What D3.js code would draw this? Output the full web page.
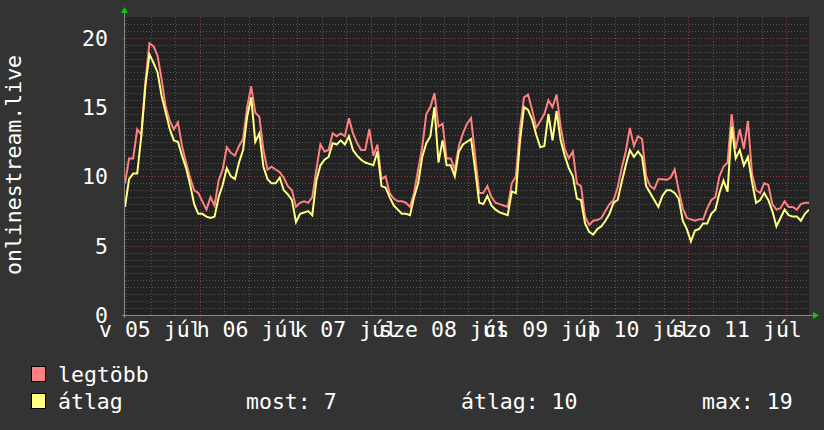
<!DOCTYPE html>
<html><head><meta charset="utf-8">
<script src="https://cdn.jsdelivr.net/npm/d3@7"></script>
<style>
html,body{margin:0;padding:0;background:#333333;}
svg{display:block;}
text{font-family:"DejaVu Sans Mono",monospace;fill:#ffffff;}
</style></head>
<body>
<svg id="chart" width="824" height="430"></svg>
<script>
// ---- data (hourly samples) ----
const startTime = new Date(2020, 6, 5, 5, 40);
const endTime = new Date(2020, 6, 12, 5, 40);
const maxValues = [9.5,11.3,11.3,13.4,13.0,16.8,19.6,19.4,18.7,17.0,15.0,14.0,13.4,13.9,12.2,11.0,9.9,9.0,8.8,8.2,
7.6,8.5,7.9,9.7,10.5,12.1,11.7,11.5,12.2,12.7,15.0,16.5,14.6,14.3,11.9,10.5,10.7,10.5,10.3,9.9,
9.3,9.0,7.8,8.1,8.2,8.1,8.5,10.5,12.3,11.8,11.9,13.1,12.9,13.1,12.9,14.2,13.1,12.4,11.9,11.9,
13.4,11.5,12.3,9.8,10.0,8.8,8.4,8.2,8.2,8.1,7.8,8.8,10.5,12.1,14.5,15.0,16.0,13.6,13.8,11.3,
11.3,10.5,12.2,13.1,13.8,14.2,11.5,8.8,8.8,9.3,8.5,8.1,8.0,7.9,7.8,9.5,10.0,13.4,15.7,15.9,
14.8,13.5,14.0,14.5,15.5,15.0,15.9,13.6,12.0,11.3,11.8,9.5,9.3,7.1,6.5,6.8,6.85,7.0,7.5,8.0,
8.3,9.2,10.6,11.8,13.5,12.2,12.9,12.7,10.0,9.3,9.1,9.8,9.8,9.75,9.9,10.5,9.0,7.7,7.0,6.9,
6.8,6.9,6.9,7.7,8.3,8.5,10.0,10.7,11.0,14.5,12.0,13.4,12.0,14.0,10.2,9.0,8.8,9.5,9.4,8.0,
7.6,7.7,8.2,7.8,7.8,7.6,8.0,8.1,8.1];
const avgValues = [7.8,9.8,10.2,10.2,12.9,16.5,18.8,18.2,17.5,15.8,14.6,13.4,12.6,12.5,11.5,10.6,9.4,8.0,7.3,7.3,
7.1,7.0,7.1,8.5,9.4,10.6,10.0,9.8,11.0,11.9,14.3,15.7,12.5,13.1,10.7,9.8,9.5,9.5,9.9,9.0,
8.7,8.3,6.7,7.3,7.4,7.5,7.2,9.7,10.8,11.2,11.4,12.4,12.3,12.6,12.3,12.9,11.9,11.5,11.2,11.0,
10.9,10.8,11.8,9.3,9.2,8.5,7.9,7.6,7.3,7.3,7.2,8.5,9.5,11.4,12.4,12.9,15.0,11.0,12.6,10.8,
10.8,10.0,11.8,12.3,12.5,12.7,10.5,8.1,8.0,8.6,7.9,7.6,7.4,7.3,7.2,8.9,8.8,12.5,15.0,14.8,
14.1,13.0,12.1,12.2,14.5,12.6,14.7,12.6,11.5,10.6,10.0,8.4,8.3,6.6,6.0,5.8,6.2,6.4,6.8,7.3,
8.1,8.3,9.6,10.8,11.9,11.4,11.8,11.4,9.3,8.8,8.3,7.8,8.6,9.0,9.0,8.8,8.4,6.8,6.2,5.3,
6.1,6.2,6.6,6.6,7.3,7.6,8.8,9.7,8.9,13.6,11.3,11.9,10.8,11.4,9.6,8.1,8.3,8.8,8.3,7.5,
6.4,7.0,7.6,7.2,7.1,7.1,6.8,7.3,7.6];
const yTickValues = [0,5,10,15,20];
const seriesNames = ["legtöbb","átlag"];
const seriesColors = ["#ff8080","#ffff80"];
const statLabels = ["most: 7","átlag: 10","max: 19"];
const titleText = "onlinestream.live";

// ---- layout ----
const svg = d3.select("#chart");
const L = 125, R = 809, T = 17, B = 315;
const x = d3.scaleTime().domain([startTime, endTime]).range([L, R]);
const y = d3.scaleLinear().domain([0, 21.5]).range([B, T]);

const hu = d3.timeFormatLocale({
  dateTime: "%Y. %B %-e., %A %X", date: "%Y. %m. %d.", time: "%H:%M:%S", periods: ["de.", "du."],
  days: ["vasárnap","hétfő","kedd","szerda","csütörtök","péntek","szombat"],
  shortDays: ["v","h","k","sze","cs","p","szo"],
  months: ["január","február","március","április","május","június","július","augusztus","szeptember","október","november","december"],
  shortMonths: ["jan","febr","márc","ápr","máj","jún","júl","aug","szept","okt","nov","dec"]
});
const fmt = hu.format("%a %d %b");

// plot background
svg.append("rect").attr("x", L).attr("y", T).attr("width", R - L).attr("height", B - T).attr("fill", "#222222");

// minor horizontal grid
const yMinor = d3.range(0.5, 21.5, 0.5).filter(v => v % 5 !== 0);
svg.append("g").selectAll("line").data(yMinor).join("line")
  .attr("x1", L).attr("x2", R).attr("y1", d => Math.round(y(d)) + 0.5).attr("y2", d => Math.round(y(d)) + 0.5)
  .attr("stroke", "#555555").attr("stroke-width", 1).attr("stroke-dasharray", "1,2");
// minor vertical grid every 6h
const xMinor = d3.timeHour.every(6).range(startTime, endTime).filter(d => d.getHours() !== 0);
svg.append("g").selectAll("line").data(xMinor).join("line")
  .attr("x1", d => Math.round(x(d)) + 0.5).attr("x2", d => Math.round(x(d)) + 0.5).attr("y1", T).attr("y2", B + 2)
  .attr("stroke", "#555555").attr("stroke-width", 1).attr("stroke-dasharray", "1,2");
// major horizontal grid
svg.append("g").selectAll("line").data(yTickValues.filter(v => v > 0)).join("line")
  .attr("x1", L - 3).attr("x2", R).attr("y1", d => Math.round(y(d)) + 0.5).attr("y2", d => Math.round(y(d)) + 0.5)
  .attr("stroke", "#8a3a3a").attr("stroke-width", 1).attr("stroke-dasharray", "1,2");
// major vertical grid at midnight
const xMajor = d3.timeDay.range(startTime, endTime);
svg.append("g").selectAll("line").data(xMajor).join("line")
  .attr("x1", d => Math.round(x(d)) + 0.5).attr("x2", d => Math.round(x(d)) + 0.5).attr("y1", T).attr("y2", B + 3)
  .attr("stroke", "#8a3a3a").attr("stroke-width", 1).attr("stroke-dasharray", "1,2");

// axes lines
svg.append("line").attr("x1", L - 0.5).attr("x2", L - 0.5).attr("y1", T - 4).attr("y2", B + 3).attr("stroke", "#8a8a8a");
svg.append("line").attr("x1", L - 3).attr("x2", R + 4).attr("y1", B + 0.5).attr("y2", B + 0.5).attr("stroke", "#8a8a8a");
// arrows
svg.append("path").attr("d", `M${L - 4},${T - 4} L${L + 3},${T - 4} L${L - 0.5},${T - 10} Z`).attr("fill", "#00cc00");
svg.append("path").attr("d", `M${R + 4},${B - 3} L${R + 4},${B + 4} L${R + 10},${B + 0.5} Z`).attr("fill", "#00cc00");

// y labels
svg.append("g").selectAll("text").data(yTickValues).join("text")
  .attr("x", 108).attr("y", d => y(d) + 8).attr("text-anchor", "end")
  .attr("font-size", "21.5px").text(d => d);

// x labels at noon (only days whose noon lies inside the graph)
const labelDays = d3.timeDay.range(d3.timeDay.floor(startTime), endTime)
  .map(d => d3.timeHour.offset(d, 12)).filter(d => d <= endTime);
svg.append("g").selectAll("text").data(labelDays).join("text")
  .attr("x", d => x(d)).attr("y", 336.5).attr("text-anchor", "middle")
  .attr("font-size", "21.5px").text(d => fmt(d));

// title
svg.append("text").attr("transform", "translate(21,165) rotate(-90)").attr("text-anchor", "middle")
  .attr("font-size", "21.5px").text(titleText);

// lines
const times = maxValues.map((_, i) => d3.timeHour.offset(startTime, i));
const line = d3.line().x((d, i) => x(times[i])).y(d => y(d)).curve(d3.curveLinear);
svg.append("clipPath").attr("id", "clip").append("rect").attr("x", L).attr("y", T - 2).attr("width", R - L).attr("height", B - T + 2);
const lg = svg.append("g").attr("clip-path", "url(#clip)");
lg.append("path").datum(maxValues).attr("d", line).attr("fill", "none").attr("stroke", seriesColors[0]).attr("stroke-width", 2).attr("stroke-linejoin", "miter");
lg.append("path").datum(avgValues).attr("d", line).attr("fill", "none").attr("stroke", seriesColors[1]).attr("stroke-width", 2).attr("stroke-linejoin", "miter");

// legend
const leg = svg.append("g");
seriesNames.forEach((n, i) => {
  const yy = 366 + i * 27;
  leg.append("rect").attr("x", 31.5).attr("y", yy + 0.5).attr("width", 14).attr("height", 15)
    .attr("fill", seriesColors[i]).attr("stroke", "#000").attr("stroke-width", 1);
  leg.append("text").attr("x", 58).attr("y", yy + 16).attr("font-size", "21.5px").text(n);
});
const statX = [246, 461, 702];
statLabels.forEach((s, i) => {
  leg.append("text").attr("x", statX[i]).attr("y", 409).attr("font-size", "21.5px").text(s);
});
</script>
</body></html>
